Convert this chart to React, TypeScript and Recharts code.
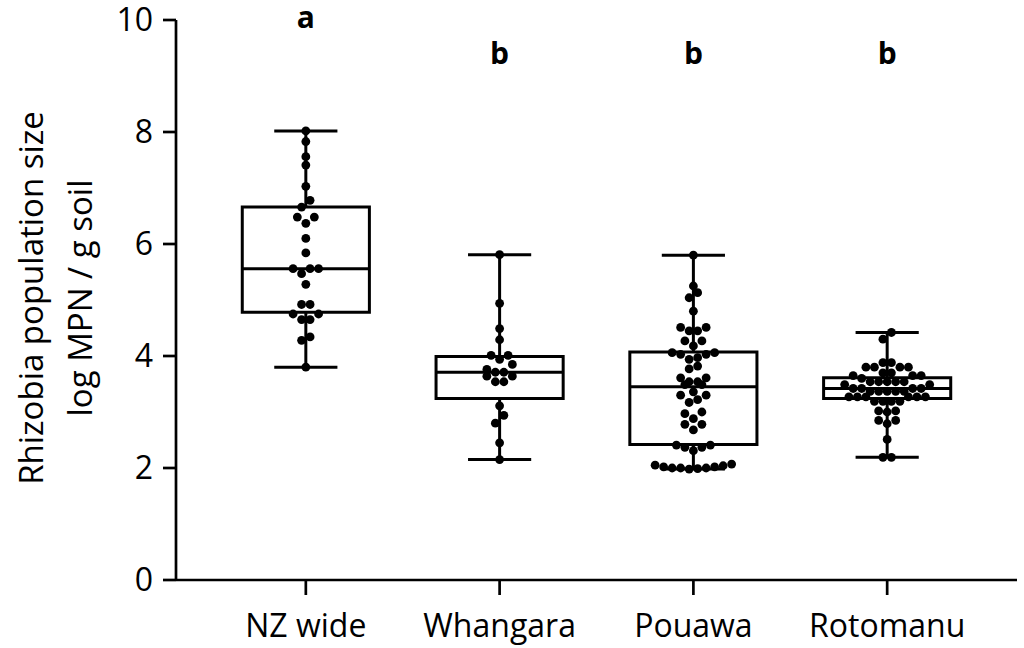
import React from "react";
import {
  ComposedChart,
  Scatter,
  XAxis,
  YAxis,
  ReferenceArea,
  ReferenceLine,
} from "recharts";

const CATEGORIES = ["NZ wide", "Whangara", "Pouawa", "Rotomanu"];
const LETTERS = ["a", "b", "b", "b"];

// log MPN / g soil per sample
const NZ_WIDE = [
  8.02, 7.83, 7.56, 7.41, 7.03, 6.78, 6.66, 6.48, 6.48, 6.37, 6.1, 5.84, 5.56, 5.56, 5.56, 5.47,
  5.28, 4.92, 4.92, 4.75, 4.75, 4.65, 4.65, 4.34, 4.28, 3.8,
];
const WHANGARA = [
  5.81, 4.94, 4.49, 4.29, 4.01, 4.01, 3.94, 3.85, 3.76, 3.71, 3.71, 3.64, 3.64, 3.54, 3.54, 3.11,
  2.94, 2.8, 2.45, 2.15,
];
const POUAWA = [
  5.8, 5.25, 5.13, 5.04, 4.8, 4.51, 4.51, 4.45, 4.45, 4.27, 4.27, 4.18, 4.06, 4.06, 4.03, 4.03,
  3.97, 3.94, 3.82, 3.77, 3.61, 3.61, 3.54, 3.54, 3.49, 3.49, 3.36, 3.3, 3.3, 3.22, 3.17, 3.0,
  2.97, 2.88, 2.78, 2.78, 2.68, 2.41, 2.41, 2.37, 2.37, 2.31, 2.07, 2.05, 2.04, 2.02, 2.02, 2.0,
  2.0, 2.0, 1.99, 1.98,
];
const ROTOMANU = [
  4.42, 4.3, 3.88, 3.88, 3.8, 3.8, 3.8, 3.8, 3.7, 3.7, 3.65, 3.65, 3.65, 3.6, 3.54, 3.54, 3.54,
  3.54, 3.54, 3.49, 3.49, 3.42, 3.42, 3.42, 3.42, 3.37, 3.37, 3.37, 3.37, 3.37, 3.27, 3.27, 3.27,
  3.27, 3.27, 3.27, 3.19, 3.19, 3.19, 3.19, 3.02, 3.02, 3.0, 2.85, 2.85, 2.79, 2.51, 2.19, 2.19,
];
const GROUPS = [NZ_WIDE, WHANGARA, POUAWA, ROTOMANU];

const Q1 = [4.78, 3.24, 2.42, 3.24];
const MEDIAN = [5.56, 3.71, 3.45, 3.42];
const Q3 = [6.66, 3.99, 4.07, 3.61];

const Y_TICKS = [0, 2, 4, 6, 8, 10];

// layout
const W = 1024;
const H = 648;
const TOP = 20;
const RIGHT = 7;
const Y_AXIS_W = 176;
const X_AXIS_H = 68;
const X_DOMAIN: [number, number] = [0.33, 4.67];
const PX_PER_X = (W - Y_AXIS_W - RIGHT) / (X_DOMAIN[1] - X_DOMAIN[0]);
const DOT_STEP = 8.5; // px between neighbouring dots
const ROW_SPAN = 0.145; // values closer than this share a row
const BOX_HALF = 0.328;
const CAP_HALF = 0.163;
const LETTER_Y: Record<string, number> = { a: 9.86, b: 9.21 };

function beeswarm(values: number[], center: number) {
  const sorted = [...values].sort((a, b) => a - b);
  const rows: number[][] = [];
  for (const v of sorted) {
    const row = rows[rows.length - 1];
    if (row && v - row[0] < ROW_SPAN) row.push(v);
    else rows.push([v]);
  }
  const pts: { x: number; y: number }[] = [];
  for (const row of rows) {
    const n = row.length;
    const slots = Array.from({ length: n }, (_, k) => k - (n - 1) / 2);
    slots.sort((a, b) => Math.abs(a) - Math.abs(b) || a - b);
    row.forEach((v, i) => pts.push({ x: center + (slots[i] * DOT_STEP) / PX_PER_X, y: v }));
  }
  return pts;
}

const FONT = "'Open Sans', 'Noto Sans', sans-serif";
const LINE = 3;

const Dot = (props: any) => <circle cx={props.cx} cy={props.cy} r={4.4} fill="#000" />;

const Letter = (props: any) => (
  <text
    x={props.cx}
    y={props.cy}
    textAnchor="middle"
    fontFamily={FONT}
    fontWeight={700}
    fontSize={30}
    fill="#000"
  >
    {props.payload.letter}
  </text>
);

const YLabel = () => (
  <g fontFamily={FONT} fontSize={33} fill="#000">
    <text x={43} y={298} textAnchor="middle" transform="rotate(-90, 43, 298)">
      Rhizobia population size
    </text>
    <text x={92} y={298} textAnchor="middle" transform="rotate(-90, 92, 298)">
      log MPN / g soil
    </text>
  </g>
);

export default function App() {
  const letterData = LETTERS.map((l, i) => ({ x: i + 1, y: LETTER_Y[l], letter: l }));
  return (
    <div style={{ position: "absolute", left: 0, top: 0, background: "#fff" }}>
      <ComposedChart
        width={W}
        height={H}
        margin={{ top: TOP, right: RIGHT, bottom: 0, left: 0 }}
        style={{ fontFamily: FONT, overflow: "visible" }}
      >
        <XAxis
          type="number"
          dataKey="x"
          domain={X_DOMAIN}
          ticks={[1, 2, 3, 4]}
          tickFormatter={(v) => CATEGORIES[v - 1]}
          height={X_AXIS_H}
          axisLine={{ stroke: "#000", strokeWidth: 2.7 }}
          tickLine={{ stroke: "#000", strokeWidth: 2.7 }}
          tickSize={15}
          tickMargin={19}
          tick={{ fill: "#000", fontSize: 32, fontFamily: FONT }}
        />
        <YAxis
          type="number"
          dataKey="y"
          domain={[0, 10]}
          ticks={Y_TICKS}
          width={Y_AXIS_W}
          axisLine={{ stroke: "#000", strokeWidth: 2.7 }}
          tickLine={{ stroke: "#000", strokeWidth: 2.7 }}
          tickSize={13}
          tickMargin={10}
          tick={{ fill: "#000", fontSize: 32, fontFamily: FONT }}
          label={{ content: () => <YLabel /> }}
        />
        {CATEGORIES.map((c, i) => {
          const x = i + 1;
          const lo = Math.min(...GROUPS[i]);
          const hi = Math.max(...GROUPS[i]);
          return (
            <React.Fragment key={c}>
              <ReferenceLine
                segment={[{ x, y: lo }, { x, y: Q1[i] }]}
                stroke="#000"
                strokeWidth={LINE}
              />
              <ReferenceLine
                segment={[{ x, y: Q3[i] }, { x, y: hi }]}
                stroke="#000"
                strokeWidth={LINE}
              />
              <ReferenceLine
                segment={[{ x: x - CAP_HALF, y: lo }, { x: x + CAP_HALF, y: lo }]}
                stroke="#000"
                strokeWidth={LINE}
              />
              <ReferenceLine
                segment={[{ x: x - CAP_HALF, y: hi }, { x: x + CAP_HALF, y: hi }]}
                stroke="#000"
                strokeWidth={LINE}
              />
              <ReferenceArea
                x1={x - BOX_HALF}
                x2={x + BOX_HALF}
                y1={Q1[i]}
                y2={Q3[i]}
                fill="none"
                stroke="#000"
                strokeWidth={LINE}
              />
              <ReferenceLine
                segment={[{ x: x - BOX_HALF, y: MEDIAN[i] }, { x: x + BOX_HALF, y: MEDIAN[i] }]}
                stroke="#000"
                strokeWidth={LINE}
              />
            </React.Fragment>
          );
        })}
        {GROUPS.map((g, i) => (
          <Scatter
            key={CATEGORIES[i]}
            data={beeswarm(g, i + 1)}
            shape={Dot}
            isAnimationActive={false}
          />
        ))}
        <Scatter data={letterData} shape={Letter} isAnimationActive={false} />
      </ComposedChart>
    </div>
  );
}
